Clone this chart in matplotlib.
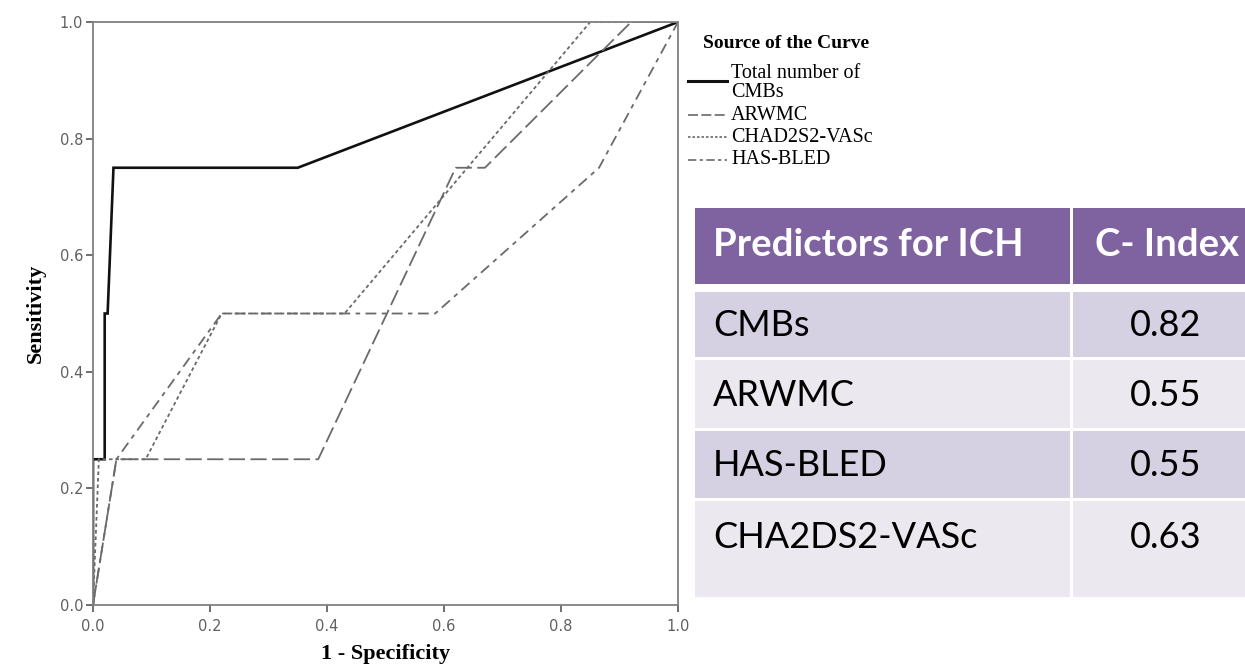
import matplotlib.pyplot as plt
from matplotlib.lines import Line2D
from matplotlib.patches import Rectangle

# ROC curves (1 - specificity, sensitivity)
cmb_x = [0.0, 0.0, 0.02, 0.02, 0.025, 0.035, 0.35, 1.0]
cmb_y = [0.0, 0.25, 0.25, 0.5, 0.5, 0.75, 0.75, 1.0]

arwmc_x = [0.0, 0.04, 0.385, 0.62, 0.67, 0.92, 1.0]
arwmc_y = [0.0, 0.25, 0.25, 0.75, 0.75, 1.0, 1.0]

chad_x = [0.0, 0.01, 0.09, 0.22, 0.43, 0.85, 1.0]
chad_y = [0.0, 0.25, 0.25, 0.5, 0.5, 1.0, 1.0]

hasbled_x = [0.0, 0.04, 0.22, 0.585, 0.865, 1.0]
hasbled_y = [0.0, 0.25, 0.5, 0.5, 0.75, 1.0]

legend_labels = ['Total number of\nCMBs', 'ARWMC', 'CHAD2S2-VASc', 'HAS-BLED']

ticks = [0.0, 0.2, 0.4, 0.6, 0.8, 1.0]

# table
table_header = ['Predictors for ICH', 'C- Index']
predictors = ['CMBs', 'ARWMC', 'HAS-BLED', 'CHA2DS2-VASc']
c_index = ['0.82', '0.55', '0.55', '0.63']

W, H = 1245, 668
fig = plt.figure(figsize=(W / 100, H / 100), dpi=100)

ax = fig.add_axes([93 / W, (H - 605) / H, 585 / W, 583 / H])
grey = '#6a6a6a'
ax.plot(cmb_x, cmb_y, color='#111111', lw=1.9, solid_joinstyle='miter')
ax.plot(arwmc_x, arwmc_y, color=grey, lw=1.3, dashes=(9, 3))
ax.plot(chad_x, chad_y, color=grey, lw=1.3, dashes=(2, 1.6))
ax.plot(hasbled_x, hasbled_y, color=grey, lw=1.3, dashes=(6, 3, 2.5, 3))

ax.set_xlim(0, 1)
ax.set_ylim(0, 1)
ax.set_xticks(ticks)
ax.set_yticks(ticks)
ax.set_xticklabels(['%.1f' % t for t in ticks])
ax.set_yticklabels(['%.1f' % t for t in ticks])
ax.tick_params(direction='out', length=5, width=1.2, color='#555555',
               labelsize=10.5, labelcolor='#606060', pad=2)
ax.tick_params(axis='x', pad=5)
for s in ax.spines.values():
    s.set_color('#808080')
    s.set_linewidth(1.3)

ax.set_xlabel('1 - Specificity', family='Liberation Serif', weight='bold',
              fontsize=16, labelpad=7)
ax.set_ylabel('Sensitivity', family='Liberation Serif', weight='bold',
              fontsize=16, labelpad=10)

# legend drawn by hand, SPSS style
serif = 'Liberation Serif'
fig.text(703 / W, 1 - 43 / H, 'Source of the Curve', family=serif,
         weight='bold', fontsize=14, va='center', ha='left')
styles = [dict(color='#111111', lw=2.2),
          dict(color=grey, lw=1.2, dashes=(6, 2)),
          dict(color=grey, lw=1.2, dashes=(1.5, 1.2)),
          dict(color=grey, lw=1.2, dashes=(5, 2, 2, 2))]
handle_y = [81, 115, 137, 160]
text_y = [83, 115, 137, 160]
for lab, st, hy, ty in zip(legend_labels, styles, handle_y, text_y):
    fig.add_artist(Line2D([688 / W, 727 / W], [1 - hy / H, 1 - hy / H],
                          transform=fig.transFigure, **st))
    fig.text(731 / W, 1 - ty / H, lab, family=serif, fontsize=14.5,
             va='center', ha='left', linespacing=0.95)

# table on the right
tab = fig.add_axes([0, 0, 1, 1], facecolor='none')
tab.set_xlim(0, W)
tab.set_ylim(H, 0)
tab.axis('off')
col_x = [(695, 1070), (1073, 1245)]
row_y = [(208, 284), (292, 357), (360, 428), (431, 498), (501, 597)]
row_colors = ['#7f63a0', '#d5d1e2', '#ebe8f0', '#d5d1e2', '#ebe8f0']
text_rows = [table_header] + [[p, c] for p, c in zip(predictors, c_index)]
text_y_tab = [245, 326, 396, 466, 537]
for i, ((y0, y1), fc) in enumerate(zip(row_y, row_colors)):
    for j, (x0, x1) in enumerate(col_x):
        tab.add_patch(Rectangle((x0, y0), x1 - x0, y1 - y0, fc=fc, ec='none'))
        txt = text_rows[i][j]
        if i == 0:
            kw = dict(color='white', weight='bold', fontsize=27.5)
        else:
            kw = dict(color='black', fontsize=26)
        if j == 0:
            tab.text(713, text_y_tab[i], txt, ha='left', va='center',
                     family='Lato', **kw)
        elif i == 0:
            tab.text(1095, text_y_tab[i], txt, ha='left', va='center',
                     family='Lato', **kw)
        else:
            tab.text(1166, text_y_tab[i], txt, ha='center', va='center',
                     family='Lato', **kw)

fig.savefig('out.png', dpi=100)
